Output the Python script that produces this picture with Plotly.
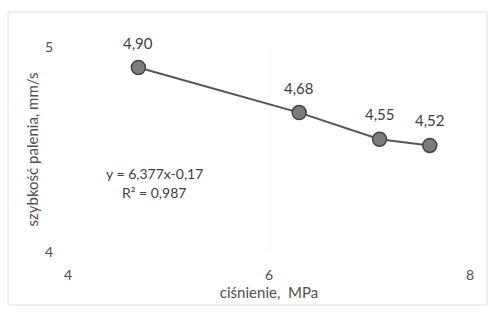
import plotly.graph_objects as go

# Data
pressure = [4.7, 6.3, 7.1, 7.6]          # ciśnienie, MPa
burn_rate = [4.90, 4.68, 4.55, 4.52]     # szybkość palenia, mm/s
x_ticks = [4, 6, 8]
y_ticks = [4, 5]
equation_text = "y = 6,377x-0,17"
r2_text = "R² = 0,987"

FONT = "Lato, 'Open Sans', sans-serif"
TXT = "#505050"

fig = go.Figure()
fig.add_trace(go.Scatter(
    x=pressure, y=burn_rate, mode="lines+markers",
    line=dict(color="#555555", width=2),
    marker=dict(size=14, color="#7c7c7c", line=dict(color="#454545", width=1.5)),
    showlegend=False, hoverinfo="x+y",
))

annotations = []
for xv, yv in zip(pressure, burn_rate):
    annotations.append(dict(
        x=xv, y=yv, xref="x", yref="y", text=f"{yv:.2f}".replace(".", ","),
        showarrow=False, yshift=25, font=dict(family=FONT, size=15, color="#404040"),
    ))
annotations.append(dict(x=4.86, y=4.385, xref="x", yref="y", text=equation_text,
                        showarrow=False, font=dict(family=FONT, size=14, color="#404040")))
annotations.append(dict(x=4.86, y=4.29, xref="x", yref="y", text=r2_text,
                        showarrow=False, font=dict(family=FONT, size=14, color="#404040")))

L, R, T, B = 68, 23, 47, 68
W, H = 493, 320
pw, ph = W - L - R, H - T - B

shapes = [dict(type="rect", xref="paper", yref="paper",
               x0=(8 - L) / pw, x1=(487 - L) / pw,
               y0=((H - B) - 305) / ph, y1=((H - B) - 12) / ph,
               line=dict(color="#e0e0e0", width=1), layer="below")]

fig.update_layout(
    width=W, height=H,
    margin=dict(l=L, r=R, t=T, b=B),
    paper_bgcolor="white", plot_bgcolor="white",
    font=dict(family=FONT, color=TXT, size=14),
    annotations=annotations, shapes=shapes,
    xaxis=dict(range=[4, 8], tickvals=x_ticks, ticktext=[str(v) for v in x_ticks],
               showgrid=True, gridcolor="#f6f6f6", zeroline=False, showline=False,
               ticks="", ticklabelstandoff=13,
               title=dict(text="ciśnienie,  MPa", standoff=2, font=dict(size=15, color=TXT)),
               tickfont=dict(size=14, color=TXT)),
    yaxis=dict(range=[4, 5], tickvals=y_ticks, ticktext=[str(v) for v in y_ticks],
               showgrid=True, gridcolor="#f6f6f6", zeroline=False, showline=False,
               ticks="", ticklabelstandoff=14,
               title=dict(text="szybkość palenia, mm/s", standoff=2, font=dict(size=15, color=TXT)),
               tickfont=dict(size=14, color=TXT)),
)

fig.write_html("out.html")
